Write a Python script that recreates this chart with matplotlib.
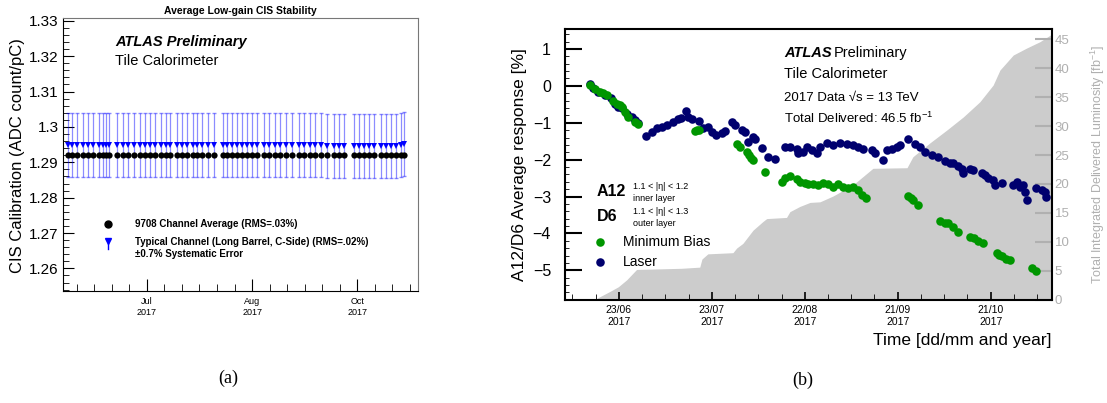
import matplotlib
matplotlib.use("Agg")
import matplotlib.pyplot as plt
from matplotlib.ticker import MultipleLocator, FixedLocator, FuncFormatter

plt.rcParams['font.family'] = ['Liberation Sans', 'DejaVu Sans']
plt.rcParams['mathtext.fontset'] = 'custom'
plt.rcParams['mathtext.rm'] = 'Liberation Sans'
plt.rcParams['mathtext.it'] = 'Liberation Sans:italic'
plt.rcParams['mathtext.bf'] = 'Liberation Sans:bold'

# ── (a) CIS stability: days relative to the "Jul" tick ──
cis_days = [-33.6, -32.1, -29.7, -27.2, -25.0, -22.9, -20.7, -18.9, -17.4, -16.0,
            -12.9, -10.3, -7.9, -5.7, -2.9, -0.7, 1.4, 3.6, 6.0, 8.1,
            10.0, 12.9, 15.0, 17.1, 19.7, 21.4, 23.6, 26.0, 28.8, 32.6,
            34.3, 36.4, 38.6, 40.7, 42.9, 45.0, 47.1, 50.0, 52.1, 54.6,
            57.1, 59.7, 62.3, 65.0, 67.4, 70.0, 72.1, 74.3, 77.1, 80.0,
            82.1, 84.3, 88.5, 90.7, 92.8, 95.0, 97.1, 100.0, 102.1, 104.3,
            106.4, 108.6, 110.0]
cis_avg = [1.2922] * 63
cis_typical = [1.2950, 1.2949, 1.2949, 1.2949, 1.2950, 1.2949, 1.2949, 1.2949, 1.2948, 1.2949,
               1.2950, 1.2949, 1.2949, 1.2950, 1.2949, 1.2949, 1.2948, 1.2949, 1.2949, 1.2949,
               1.2950, 1.2949, 1.2949, 1.2949, 1.2950, 1.2949, 1.2949, 1.2950, 1.2949, 1.2949,
               1.2949, 1.2949, 1.2949, 1.2949, 1.2949, 1.2950, 1.2949, 1.2949, 1.2949, 1.2949,
               1.2950, 1.2949, 1.2949, 1.2949, 1.2950, 1.2949, 1.2949, 1.2948, 1.2945, 1.2945,
               1.2945, 1.2945, 1.2947, 1.2947, 1.2947, 1.2947, 1.2947, 1.2947, 1.2947, 1.2947,
               1.2947, 1.2948, 1.2951]
SYST_ERR = 0.007
cis_tick_pos = [0, 45, 90]
cis_tick_labels = ["Jul\n2017", "Aug\n2017", "Oct\n2017"]

# ── (b) A12/D6 response: days relative to 23/06/2017 ──
laser_days = [-9.4, -8.3, -6.7, -4.5, -2.4, -1.3, -0.2, 0.9, 2.5, 4.2, 5.2, 6.2,
              8.9, 10.6, 12.2, 13.8, 15.4, 17.5, 19.1, 20.2, 21.5, 22.4,
              23.7, 25.8, 27.2, 28.8, 29.9, 31.5, 33.2, 34.2, 36.4, 37.4,
              39.6, 40.7, 41.7, 43.4, 43.9, 46.1, 48.2, 50.4,
              53.6, 55.2, 57.4, 57.9, 59.5, 60.6, 62.2, 63.8, 64.9, 67.1,
              69.2, 71.3, 73.5, 75.6, 77.3, 78.9, 81.6, 82.6, 85.3, 86.4,
              88.0, 89.7, 90.7, 93.4, 95.6, 97.2, 98.8, 101.0, 103.1, 105.2,
              106.9, 107.9, 109.5, 110.6, 111.2, 113.3, 114.4, 117.1, 118.2, 119.2,
              120.8, 121.4, 123.6, 127.3, 128.4, 129.5, 130.5, 131.1, 131.6, 134.8,
              136.5, 137.5, 137.9]
laser_resp = [0.04, -0.07, -0.16, -0.25, -0.34, -0.48, -0.57, -0.61, -0.75, -0.85, -0.93, -1.02,
              -1.36, -1.25, -1.15, -1.11, -1.06, -0.97, -0.91, -0.86, -0.68, -0.84,
              -0.91, -0.95, -1.15, -1.11, -1.25, -1.34, -1.29, -1.22, -0.97, -1.05,
              -1.20, -1.25, -1.52, -1.38, -1.44, -1.68, -1.93, -1.99,
              -1.65, -1.65, -1.70, -1.83, -1.79, -1.65, -1.74, -1.81, -1.65, -1.56,
              -1.61, -1.56, -1.58, -1.61, -1.65, -1.70, -1.74, -1.83, -2.01, -1.74,
              -1.72, -1.67, -1.61, -1.43, -1.58, -1.65, -1.79, -1.88, -1.93, -2.03,
              -2.09, -2.10, -2.18, -2.24, -2.36, -2.24, -2.27, -2.36, -2.42, -2.51,
              -2.56, -2.69, -2.63, -2.69, -2.60, -2.74, -2.69, -2.88, -3.08, -2.78,
              -2.83, -2.88, -3.01]
mb_days = [-9.4, -7.7, -6.1, -5.1, -4.0, -1.8, -0.7, 0.3, 1.0, 1.9, 3.0, 5.2, 6.2,
           24.5, 25.1, 25.8,
           38.0, 39.1, 41.2, 42.1, 42.8, 43.4, 47.1, 52.5, 53.6, 55.2,
           57.4, 58.4, 60.0, 61.1, 62.6, 64.3, 66.0, 67.6, 69.2, 70.8,
           72.4, 74.0, 75.6, 77.3, 78.4, 79.8,
           93.4, 94.3, 95.0, 96.6, 103.6, 105.2, 106.3, 107.9, 109.3, 113.3,
           114.6, 116.0, 117.4, 121.9, 122.7, 123.6, 124.8, 126.2, 133.2, 134.6]
mb_resp = [0.02, -0.09, -0.16, -0.20, -0.25, -0.41, -0.48, -0.52, -0.58, -0.70, -0.85, -0.99, -1.04,
           -1.22, -1.20, -1.19,
           -1.58, -1.65, -1.80, -1.88, -1.95, -2.02, -2.34, -2.61, -2.50, -2.45,
           -2.53, -2.60, -2.63, -2.65, -2.67, -2.69, -2.63, -2.67, -2.74, -2.67,
           -2.75, -2.78, -2.73, -2.83, -2.96, -3.03,
           -2.99, -3.05, -3.10, -3.24, -3.65, -3.72, -3.73, -3.83, -3.96, -4.09,
           -4.13, -4.21, -4.26, -4.53, -4.58, -4.62, -4.68, -4.73, -4.93, -5.03]
lumi_days = [-7.8, -6.1, -2.9, -0.2, 2.5, 5.7, 20.2, 26.1, 26.8, 28.7,
             36.8, 38.0, 40.0, 43.3, 46.5, 47.7, 54.1, 55.2, 58.4, 61.7,
             64.9, 69.1, 75.5, 82.0, 93.0, 94.9, 100.4, 105.8, 111.2, 116.5,
             120.8, 123.0, 127.3, 131.6, 135.9, 139.4, 139.8]
lumi_vals = [0.0, 0.5, 1.4, 2.2, 3.4, 5.2, 5.4, 5.6, 7.0, 7.9,
             8.1, 8.9, 9.7, 12.0, 13.5, 14.0, 14.2, 15.2, 16.1, 16.8,
             16.9, 17.9, 19.8, 22.7, 22.8, 24.7, 27.1, 29.3, 31.6, 34.2,
             37.1, 39.7, 42.3, 43.5, 44.6, 45.8, 46.0]
resp_tick_pos = [0, 30, 60, 90, 120]
resp_tick_labels = ["23/06\n2017", "23/07\n2017", "22/08\n2017", "21/09\n2017", "21/10\n2017"]

GREEN = "#009600"
NAVY = "#00006e"
LUMI_GRAY = "#cccccc"
AXIS_GRAY = "#b0b0b0"

fig = plt.figure(figsize=(11.07, 4.03), dpi=100)

# ═══════════════ (a) ═══════════════
axa = fig.add_axes([0.0569, 0.2779, 0.3207, 0.6774])
axa.errorbar(cis_days, cis_typical, yerr=[v * SYST_ERR for v in cis_typical],
             fmt='none', ecolor=(0, 0, 1, 0.45), elinewidth=0.9, capsize=1.5, zorder=2)
axa.plot(cis_days, cis_typical, 'v', color='blue', ms=5, mew=0, zorder=3)
axa.plot(cis_days, cis_avg, 'o', color='black', ms=4.5, mew=0, zorder=4)

axa.set_xlim(-35.9, 116)
axa.set_ylim(1.2536, 1.3308)
axa.yaxis.set_major_locator(MultipleLocator(0.01))
axa.yaxis.set_minor_locator(MultipleLocator(0.002))
axa.yaxis.set_major_formatter(FuncFormatter(lambda v, p: f"{v:g}"))
axa.xaxis.set_major_locator(FixedLocator(cis_tick_pos))
axa.xaxis.set_minor_locator(MultipleLocator(7.5))
axa.set_xticklabels(cis_tick_labels, fontsize=6.5, linespacing=1.3)
axa.tick_params(axis='y', which='major', direction='in', length=8, labelsize=11, pad=3)
axa.tick_params(axis='y', which='minor', direction='in', length=4)
axa.tick_params(axis='x', which='major', direction='in', length=9, pad=4)
axa.tick_params(axis='x', which='minor', direction='in', length=5)
for s in ['top', 'right']:
    axa.spines[s].set_color('#777777')
    axa.spines[s].set_linewidth(0.8)
fig.text(0.0154, 0.6147, "CIS Calibration (ADC count/pC)", rotation=90,
         ha='center', va='center', fontsize=12)
fig.text(0.2168, 0.973, "Average Low-gain CIS Stability", ha='center', va='center',
         fontsize=7.5, fontweight='bold')

axa.text(0.1465, 0.913, "ATLAS Preliminary", transform=axa.transAxes, fontsize=10.5,
         fontweight='bold', style='italic', va='center')
axa.text(0.1465, 0.8425, "Tile Calorimeter", transform=axa.transAxes, fontsize=10.5,
         va='center')
axa.plot([0.1268], [0.2454], 'o', color='black', ms=5, transform=axa.transAxes, clip_on=False)
axa.plot([0.1268], [0.1840], 'v', color='blue', ms=5, transform=axa.transAxes, clip_on=False)
axa.plot([0.1268, 0.1268], [0.1806, 0.155], color='blue', lw=1, transform=axa.transAxes)
axa.text(0.2028, 0.2454, "9708 Channel Average (RMS=.03%)", transform=axa.transAxes,
         fontsize=7, fontweight='bold', va='center')
axa.text(0.2028, 0.1806, "Typical Channel (Long Barrel, C-Side) (RMS=.02%)",
         transform=axa.transAxes, fontsize=7, fontweight='bold', va='center')
axa.text(0.2028, 0.1355, "\u00b10.7% Systematic Error", transform=axa.transAxes,
         fontsize=7, fontweight='bold', va='center')

# ═══════════════ (b) ═══════════════
axb = fig.add_axes([0.5104, 0.2568, 0.4399, 0.6712])
axl = axb.twinx()
axl.fill_between(lumi_days, lumi_vals, 0, color=LUMI_GRAY, lw=0)
axl.set_ylim(0, 46.8)
axl.yaxis.set_major_locator(MultipleLocator(5))
axl.tick_params(axis='y', direction='in', length=12, width=1.5, color=AXIS_GRAY,
                labelcolor=AXIS_GRAY, labelsize=9.5, pad=2)
axl.set_ylabel("Total Integrated Delivered Luminosity [fb$^{-1}$]", color=AXIS_GRAY,
               fontsize=9, labelpad=14)
for s in axl.spines.values():
    s.set_visible(False)

axb.set_zorder(axl.get_zorder() + 1)
axb.patch.set_visible(False)
axb.scatter(laser_days, laser_resp, s=38, color=NAVY, lw=0, zorder=3)
axb.scatter(mb_days, mb_resp, s=38, color=GREEN, lw=0, zorder=4)

axb.set_xlim(-17.4, 139.8)
axb.set_ylim(-5.79, 1.54)
axb.yaxis.set_major_locator(MultipleLocator(1))
axb.yaxis.set_minor_locator(MultipleLocator(0.2))
axb.xaxis.set_major_locator(FixedLocator(resp_tick_pos))
axb.xaxis.set_minor_locator(MultipleLocator(7.5))
axb.set_xticklabels(resp_tick_labels, fontsize=7.5, linespacing=1.25)
axb.tick_params(axis='y', which='major', direction='in', length=12, width=1.5,
                labelsize=11.5, pad=10)
axb.tick_params(axis='y', which='minor', direction='in', length=3)
axb.tick_params(axis='x', which='major', direction='in', length=6, width=1.2, pad=4)
axb.tick_params(axis='x', which='minor', direction='in', length=4)
for s in axb.spines.values():
    s.set_linewidth(1.5)
axb.set_ylabel("A12/D6 Average response [%]", fontsize=12.5, labelpad=4)
axb.set_xlabel("Time [dd/mm and year]", fontsize=12.5, loc='right', labelpad=4)

axb.text(0.4497, 0.9113, "ATLAS", transform=axb.transAxes, fontsize=10.5,
         fontweight='bold', style='italic', va='center')
axb.text(0.552, 0.9113, "Preliminary", transform=axb.transAxes, fontsize=10.5, va='center')
axb.text(0.4497, 0.8325, "Tile Calorimeter", transform=axb.transAxes, fontsize=10.5,
         va='center')
axb.text(0.4497, 0.746, "2017 Data \u221as = 13 TeV", transform=axb.transAxes,
         fontsize=9.5, va='center')
axb.text(0.4497, 0.670, "Total Delivered: 46.5 fb$^{-1}$", transform=axb.transAxes,
         fontsize=9.5, va='center')

axb.text(0.065, 0.3985, "A12", transform=axb.transAxes, fontsize=11.5,
         fontweight='bold', va='center')
axb.text(0.139, 0.4196, "1.1 < |\u03b7| < 1.2", transform=axb.transAxes, fontsize=6.5,
         va='center')
axb.text(0.139, 0.375, "inner layer", transform=axb.transAxes, fontsize=6.5, va='center')
axb.text(0.065, 0.3087, "D6", transform=axb.transAxes, fontsize=11.5,
         fontweight='bold', va='center')
axb.text(0.139, 0.327, "1.1 < |\u03b7| < 1.3", transform=axb.transAxes, fontsize=6.5,
         va='center')
axb.text(0.139, 0.2817, "outer layer", transform=axb.transAxes, fontsize=6.5, va='center')
axb.scatter([0.0719], [0.2137], s=38, color=GREEN, lw=0, transform=axb.transAxes)
axb.text(0.1185, 0.2137, "Minimum Bias", transform=axb.transAxes, fontsize=10,
         va='center')
axb.scatter([0.0719], [0.1397], s=38, color=NAVY, lw=0, transform=axb.transAxes)
axb.text(0.1185, 0.1397, "Laser", transform=axb.transAxes, fontsize=10, va='center')

# captions
fig.text(0.206, 0.062, "(a)", ha='center', va='center', fontsize=13,
         family='Liberation Serif')
fig.text(0.7254, 0.055, "(b)", ha='center', va='center', fontsize=13,
         family='Liberation Serif')

fig.savefig("out.png", dpi=100)
